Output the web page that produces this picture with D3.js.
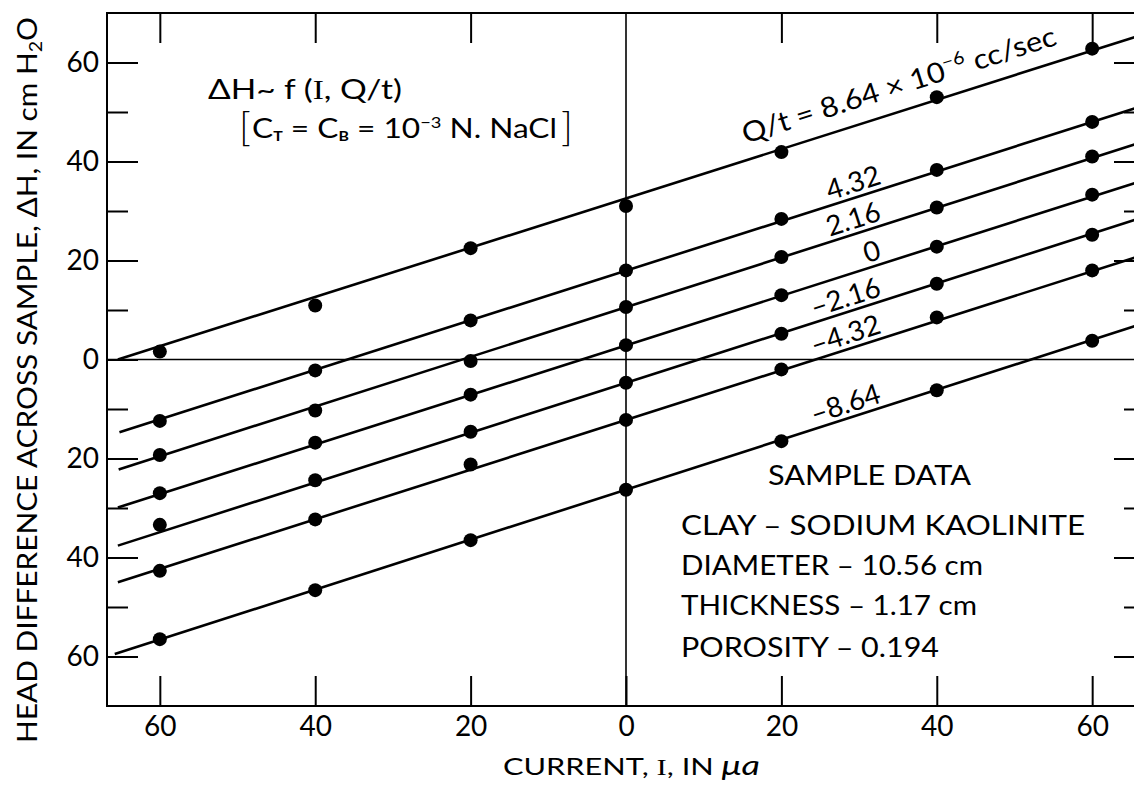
<!DOCTYPE html>
<html><head><meta charset="utf-8">
<script src="https://cdn.jsdelivr.net/npm/d3@7/dist/d3.min.js"></script>
<style>
body{margin:0;background:#fff}
svg{display:block;background:#fff}
text{font-family:Lato,"Noto Sans",sans-serif;fill:#000}
</style>
</head><body>
<svg id="chart" width="1134" height="787"></svg>
<script>
// ---------- data ----------
const currents = [-60, -40, -20, 0, 20, 40, 60];
const flowRates = ["8.64", "4.32", "2.16", "0", "-2.16", "-4.32", "-8.64"];
const headQ864  = [1.6, 10.9, 22.5, 31.0, 41.9, 53.0, 62.8];
const headQ432  = [-12.4, -2.2, 7.9, 18.0, 28.4, 38.3, 48.0];
const headQ216  = [-19.3, -10.3, -0.3, 10.6, 20.7, 30.7, 41.0];
const headQ0    = [-27.0, -16.8, -7.1, 2.9, 13.0, 22.8, 33.3];
const headQm216 = [-33.4, -24.4, -14.6, -4.7, 5.2, 15.3, 25.2];
const headQm432 = [-42.7, -32.3, -21.2, -12.2, -2.0, 8.5, 18.0];
const headQm864 = [-56.5, -46.6, -36.5, -26.3, -16.5, -6.2, 3.8];
const allHeads = [headQ864, headQ432, headQ216, headQ0, headQm216, headQm432, headQm864];
// fitted straight lines: left end (x,y) and y at right edge of the frame
const fitStartX = [-65.4, -65.2, -65.3, -65.4, -65.4, -65.4, -65.8];
const fitStartY = [0.0, -14.7, -22.2, -29.9, -37.6, -45.0, -59.5];
const fitEndY   = [65.8, 51.4, 44.1, 36.3, 28.85, 21.25, 7.4];
const xTicks = [-60, -40, -20, 0, 20, 40, 60];
const yMajorTicks = [-60, -40, -20, 0, 20, 40, 60];
const yMinorTicks = [-50, -30, -10, 10, 30, 50];
const sampleTitle = "SAMPLE DATA";
const sampleLines = ["CLAY – SODIUM KAOLINITE", "DIAMETER – 10.56 cm", "THICKNESS – 1.17 cm", "POROSITY – 0.194"];

// ---------- layout ----------
const svg = d3.select("#chart");
const xMin = -66.8, xMax = 66.8;
const x = d3.scaleLinear().domain([xMin, xMax]).range([107, 1145]);
const y = d3.scaleLinear().domain([-70, 70]).range([706, 13]);
const L = 107, R = 1145, T = 13, B = 706;

// frame
svg.append("rect").attr("x", L).attr("y", T).attr("width", R - L).attr("height", B - T)
  .attr("fill", "none").attr("stroke", "#000").attr("stroke-width", 2);

// axes
function styleAxis(g){ g.select(".domain").remove(); g.selectAll("line").attr("stroke","#000").attr("stroke-width",2); g.selectAll("text").attr("font-family","Lato").attr("font-size",28).attr("fill","#000"); }
svg.append("g").attr("transform", `translate(${L},0)`)
  .call(d3.axisLeft(y).tickValues(yMajorTicks).tickSizeInner(-31).tickSizeOuter(0).tickPadding(8).tickFormat(d => Math.abs(d)))
  .call(styleAxis);
svg.append("g").attr("transform", `translate(${L},0)`)
  .call(d3.axisLeft(y).tickValues(yMinorTicks).tickSizeInner(-21).tickSizeOuter(0).tickFormat(""))
  .call(styleAxis);
svg.append("g").attr("transform", `translate(${R},0)`)
  .call(d3.axisRight(y).tickValues(yMajorTicks.filter(d => d !== 0)).tickSizeInner(-31).tickSizeOuter(0).tickFormat(""))
  .call(styleAxis);
svg.append("g").attr("transform", `translate(${R},0)`)
  .call(d3.axisRight(y).tickValues(yMinorTicks).tickSizeInner(-21).tickSizeOuter(0).tickFormat(""))
  .call(styleAxis);
svg.append("g").attr("transform", `translate(0,${B})`)
  .call(d3.axisBottom(x).tickValues(xTicks).tickSizeInner(-30).tickSizeOuter(0).tickPadding(10).tickFormat(d => Math.abs(d)))
  .call(styleAxis);
svg.append("g").attr("transform", `translate(0,${T})`)
  .call(d3.axisTop(x).tickValues(xTicks.filter(d => d !== 0)).tickSizeInner(-30).tickSizeOuter(0).tickFormat(""))
  .call(styleAxis);

// zero lines
svg.append("line").attr("x1", x(0)).attr("x2", x(0)).attr("y1", T).attr("y2", B).attr("stroke", "#000").attr("stroke-width", 1.6);
svg.append("line").attr("x1", L).attr("x2", R).attr("y1", y(0)).attr("y2", y(0)).attr("stroke", "#000").attr("stroke-width", 1.6);

// fitted lines
const lineGen = d3.line().x(d => x(d[0])).y(d => y(d[1]));
flowRates.forEach((q, i) => {
  svg.append("path").attr("d", lineGen([[fitStartX[i], fitStartY[i]], [xMax, fitEndY[i]]]))
    .attr("fill", "none").attr("stroke", "#000").attr("stroke-width", 2.6);
});
// points
allHeads.forEach(arr => {
  svg.selectAll(null).data(arr.map((v, j) => [currents[j], v])).enter().append("circle")
    .attr("cx", d => x(d[0])).attr("cy", d => y(d[1])).attr("r", 7).attr("fill", "#000");
});

// rotated series labels
function lineY(i, xv){ return fitStartY[i] + (fitEndY[i] - fitStartY[i]) * (xv - fitStartX[i]) / (xMax - fitStartX[i]); }
function labelAt(i, xv, off, anchor){
  const a = Math.atan2(y(fitEndY[i]) - y(fitStartY[i]), x(xMax) - x(fitStartX[i]));
  const px = x(xv) + Math.sin(a) * off, py = y(lineY(i, xv)) - Math.cos(a) * off;
  return svg.append("text").attr("transform", `translate(${px},${py}) rotate(${a * 180 / Math.PI})`)
    .attr("text-anchor", anchor).attr("font-size", 28);
}
{
  const t = labelAt(0, 16.0, 16, "start").attr("textLength", 328).attr("lengthAdjust", "spacingAndGlyphs");
  t.append("tspan").text("Q/t = " + flowRates[0] + " × 10");
  t.append("tspan").attr("font-size", 18).attr("dy", -11).text("−6");
  t.append("tspan").attr("dy", 11).text(" cc/sec");
}
for (let i = 1; i < flowRates.length; i++) {
  labelAt(i, 33.2, 5, "end").text(flowRates[i].replace("-", "–"));
}

// formula block
{
  const t = svg.append("text").attr("x", 208).attr("y", 99).attr("font-size", 27)
    .attr("textLength", 194).attr("lengthAdjust", "spacingAndGlyphs");
  t.append("tspan").text("ΔH~ f (");
  t.append("tspan").attr("font-family", "Liberation Serif").text("I");
  t.append("tspan").text(", Q/t)");
  svg.append("text").attr("x", 239).attr("y", 141).attr("font-size", 40).attr("font-weight", 300).text("[");
  svg.append("text").attr("x", 561).attr("y", 141).attr("font-size", 40).attr("font-weight", 300).text("]");
  const u = svg.append("text").attr("x", 252).attr("y", 138).attr("font-size", 26)
    .attr("textLength", 305).attr("lengthAdjust", "spacingAndGlyphs");
  u.append("tspan").text("C");
  u.append("tspan").attr("font-size", 13).attr("dy", 3).attr("font-weight", 700).text("T");
  u.append("tspan").attr("dy", -3).text(" = C");
  u.append("tspan").attr("font-size", 13).attr("dy", 3).attr("font-weight", 700).text("B");
  u.append("tspan").attr("dy", -3).text(" = 10");
  u.append("tspan").attr("font-size", 15).attr("dy", -10).text("−3");
  u.append("tspan").attr("dy", 10).text(" N. NaCl");
}

// sample data block
svg.append("text").attr("x", 768).attr("y", 485).attr("font-size", 27)
  .attr("textLength", 203).attr("lengthAdjust", "spacingAndGlyphs").text(sampleTitle);
const sampleBase = [535, 575, 615, 657];
const sampleWidths = [404, 302, 296, 258];
sampleLines.forEach((s, i) => {
  svg.append("text").attr("x", 681).attr("y", sampleBase[i]).attr("font-size", 27)
    .attr("textLength", sampleWidths[i]).attr("lengthAdjust", "spacingAndGlyphs").text(s);
});

// axis titles
{
  const t = svg.append("text").attr("x", 503).attr("y", 775).attr("font-size", 23)
    .attr("textLength", 257).attr("lengthAdjust", "spacingAndGlyphs");
  t.append("tspan").text("CURRENT, ");
  t.append("tspan").attr("font-family", "Liberation Serif").text("I");
  t.append("tspan").text(", IN ");
  t.append("tspan").attr("font-style", "italic").attr("font-size", 27).text("μa");
}
{
  const t = svg.append("text").attr("transform", "translate(37,743) rotate(-90)").attr("font-size", 26)
    .attr("textLength", 726).attr("lengthAdjust", "spacingAndGlyphs");
  t.append("tspan").text("HEAD DIFFERENCE ACROSS SAMPLE, ΔH, IN cm H");
  t.append("tspan").attr("font-size", 17).attr("dy", 5).text("2");
  t.append("tspan").attr("dy", -5).text("O");
}
</script>
</body></html>
